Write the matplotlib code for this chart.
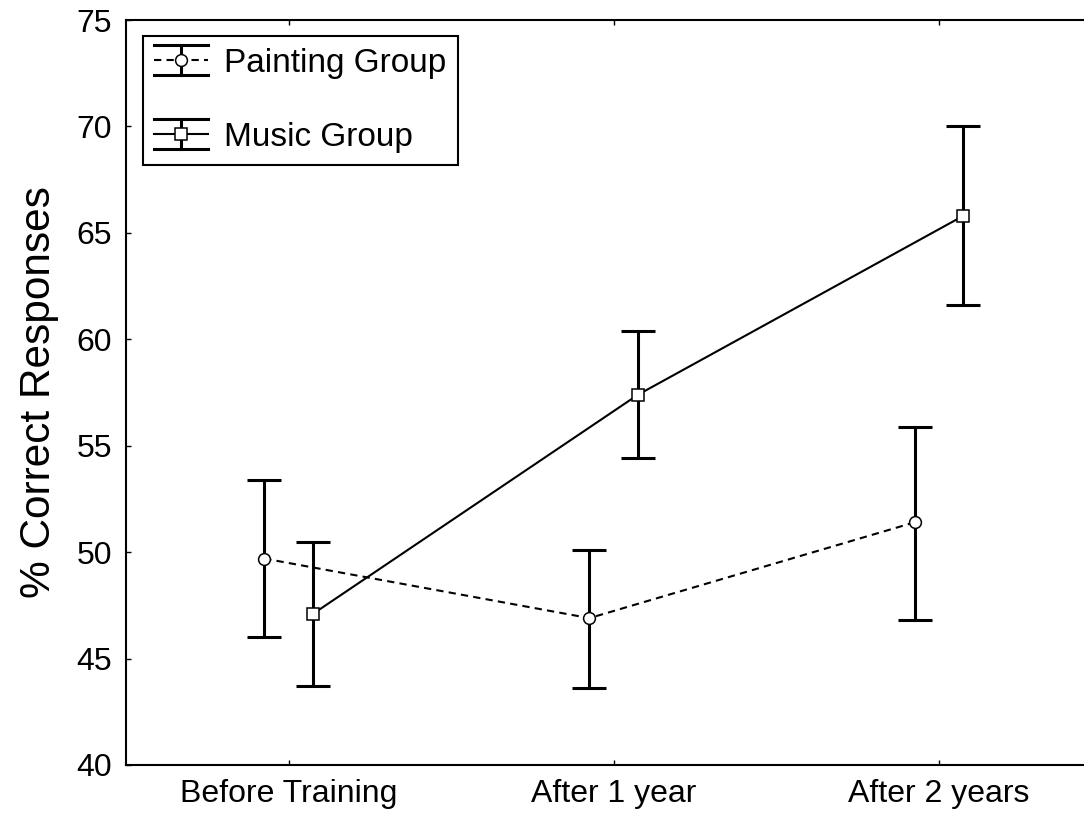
import matplotlib
matplotlib.use("Agg")
import matplotlib.pyplot as plt
from matplotlib.legend_handler import HandlerBase
from matplotlib.lines import Line2D

plt.rcParams['font.family'] = ['Liberation Sans', 'DejaVu Sans']

# data
stages = ["Before Training", "After 1 year", "After 2 years"]
painting_mean = [49.7, 46.9, 51.4]
painting_low = [46.0, 43.6, 46.8]
painting_high = [53.4, 50.1, 55.9]
music_mean = [47.1, 57.4, 65.8]
music_low = [43.7, 54.4, 61.6]
music_high = [50.5, 60.4, 70.0]

OFFSET = 0.075
DASHED = (0, (3.5, 2.5))


class ErrorbarHandle(HandlerBase):
    """legend key: vertical bar with full-width caps, line and marker"""

    def __init__(self, ls, marker):
        super().__init__()
        self.ls = ls
        self.marker = marker

    def create_artists(self, legend, orig_handle, xdescent, ydescent,
                       width, height, fontsize, trans):
        x0 = -xdescent
        x1 = -xdescent + width
        cx = (x0 + x1) / 2
        cy = -ydescent + height / 2
        half = 10.8
        arts = []
        for y in (cy - half, cy + half):
            arts.append(Line2D([x0, x1], [y, y], color='black', lw=2.2,
                               transform=trans))
        arts.append(Line2D([cx, cx], [cy - half, cy + half], color='black',
                           lw=2.2, transform=trans))
        arts.append(Line2D([x0, x1], [cy, cy], color='black', lw=1.5,
                           ls=self.ls, transform=trans))
        arts.append(Line2D([cx], [cy], marker=self.marker, ms=8.5,
                           mfc='white', mec='black', mew=1.1, ls='none',
                           transform=trans))
        return arts


def draw_group(ax, means, low, high, shift, ls, marker):
    xs = [i + shift for i in range(len(means))]
    err = [[m - lo for m, lo in zip(means, low)],
           [hi - m for m, hi in zip(means, high)]]
    ax.errorbar(xs, means, yerr=err, fmt='none', ecolor='black',
                elinewidth=2.2, capsize=12, capthick=2.2, zorder=2)
    ax.plot(xs, means, color='black', lw=1.5, ls=ls, marker=marker, ms=8.5,
            mfc='white', mec='black', mew=1.1, zorder=3)


fig = plt.figure(figsize=(10.84, 8.14), dpi=100)
ax = fig.add_axes([126 / 1084, 49 / 814, 975.5 / 1084, 745 / 814])

draw_group(ax, painting_mean, painting_low, painting_high, -OFFSET,
           DASHED, 'o')
draw_group(ax, music_mean, music_low, music_high, OFFSET, '-', 's')

ax.set_xlim(-0.5, 2.5)
ax.set_ylim(40, 75)
ax.set_xticks(range(len(stages)))
ax.set_xticklabels(stages)
ax.set_yticks(range(40, 76, 5))
ax.tick_params(direction='in', length=3.5, width=1, labelsize=23,
               top=True, right=True)
ax.tick_params(axis='y', pad=10)
ax.tick_params(axis='x', pad=10)
for s in ax.spines.values():
    s.set_linewidth(1.5)

ax.set_ylabel("% Correct Responses", fontsize=30.5)
ax.yaxis.set_label_coords(-0.069, 0.5)

h1 = Line2D([], [], color='black')
h2 = Line2D([], [], color='black')
leg = ax.legend([h1, h2], ["Painting Group", "Music Group"],
                handler_map={h1: ErrorbarHandle(DASHED, 'o'),
                             h2: ErrorbarHandle('-', 's')},
                loc='upper left', bbox_to_anchor=(16.7 / 975.5, 1 - 16 / 745),
                borderaxespad=0, fontsize=24, handlelength=1.6,
                handletextpad=0.5, borderpad=0.35, labelspacing=1.3,
                fancybox=False, framealpha=1, edgecolor='black')
leg.get_frame().set_linewidth(1.5)

fig.savefig("out.png", dpi=100)
